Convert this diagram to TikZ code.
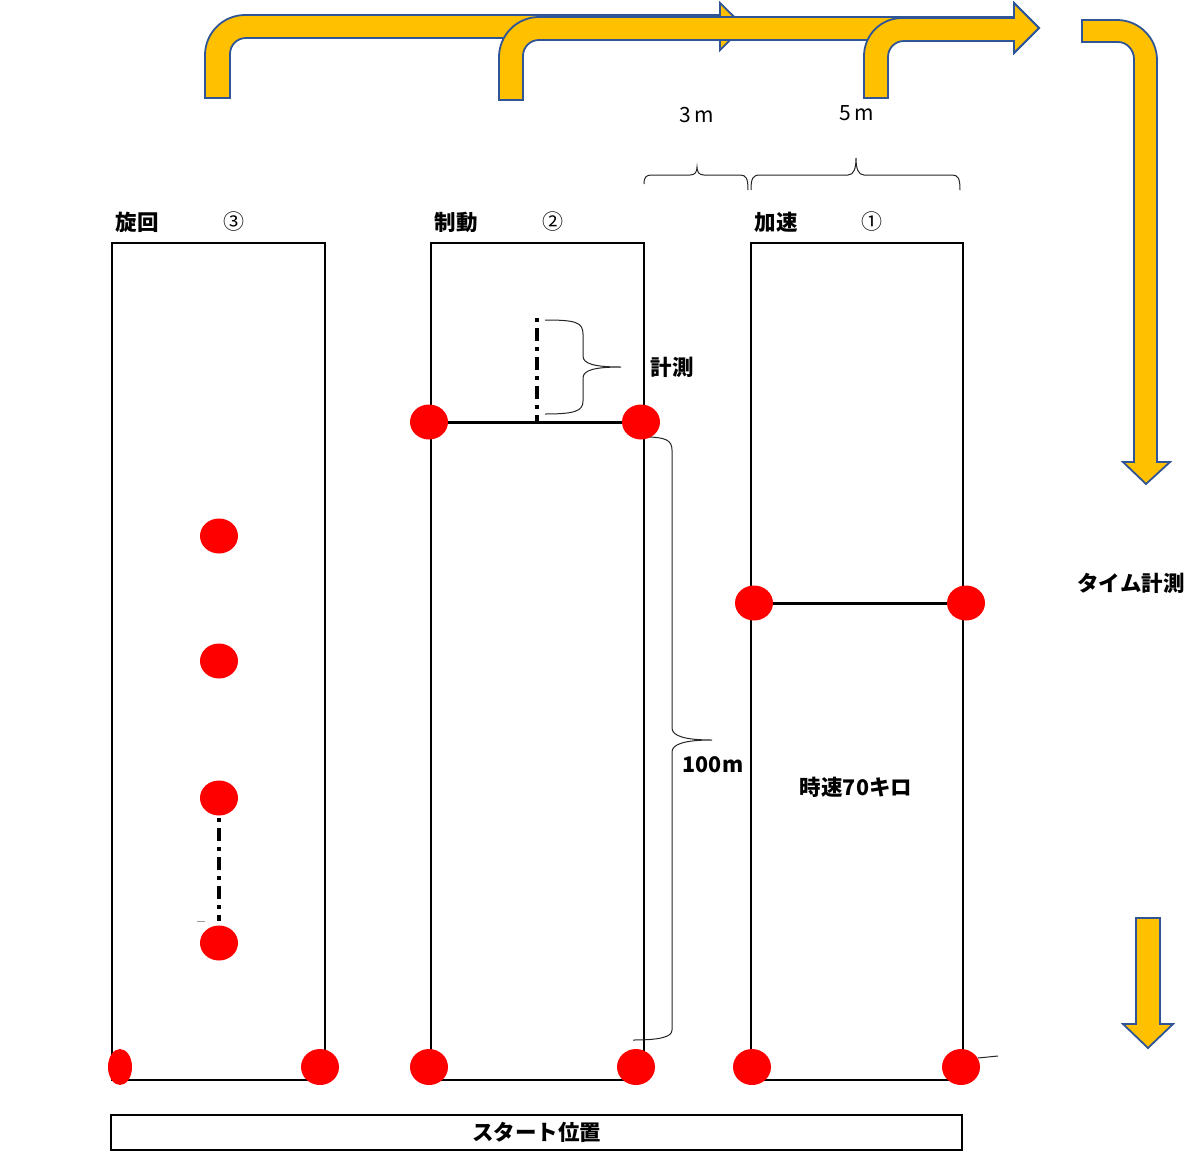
\documentclass[tikz,border=0pt]{standalone}
\usepackage{fontspec}
\setmainfont{Noto Sans CJK JP}
\usetikzlibrary{shapes.geometric}
\definecolor{arrowfill}{HTML}{FFC000}
\definecolor{arrowline}{HTML}{2F5597}
\begin{document}
\begin{tikzpicture}[x=1pt,y=-1pt,
 box/.style={draw=black, line width=2pt, inner sep=0pt},
 dot/.style={ellipse, fill=red, minimum width=38pt, minimum height=35pt, inner sep=0pt},
 lbl/.style={font=\fontsize{21.5}{24}\selectfont\bfseries, inner sep=0pt},
 num/.style={font=\fontsize{21}{24}\selectfont, inner sep=0pt},
 yarrow/.style={fill=arrowfill, draw=arrowline, line width=1.8pt, line join=miter},
 thinline/.style={draw=black!85, line width=1pt},
 bar/.style={draw=black, line width=3pt},
 dashdot/.style={draw=black, line width=4pt, dash pattern=on 4pt off 6pt on 13pt off 6pt}
]
\useasboundingbox (0,0) rectangle (1200,1171);
\fill[white] (0,0) rectangle (1200,1171);

% yellow bent arrows
\path[yarrow] (205,98) -- (205,55) .. controls (205,33) and (223,15) .. (245,15) -- (720,15) -- (720,3) -- (744,26.5) -- (720,50) -- (720,38) -- (246,38) .. controls (237,38) and (230,45) .. (230,54) -- (230,98) -- cycle;
\path[yarrow] (499,100) -- (499,57) .. controls (499,35) and (517,17) .. (539,17) -- (1014,17) -- (1014,3) -- (1039,28) -- (1014,53) -- (1014,40) -- (539,40) .. controls (530,40) and (523,47) .. (523,56) -- (523,100) -- cycle;
\path[yarrow] (864,98) -- (864,56) .. controls (864,35) and (881,18) .. (902,18) -- (1014,18) -- (1014,3) -- (1039,28) -- (1014,53) -- (1014,41) -- (904,41) .. controls (895,41) and (888,48) .. (888,57) -- (888,98) -- cycle;
\path[yarrow] (1082,20) -- (1117,20) .. controls (1139,20) and (1157,38) .. (1157,60) -- (1157,462) -- (1170,462) -- (1146,484) -- (1123,462) -- (1134,462) -- (1134,59) .. controls (1134,50) and (1127,42) .. (1118,42) -- (1082,42) -- cycle;
\path[yarrow] (1136,918) -- (1160,918) -- (1160,1024) -- (1173,1024) -- (1148,1048) -- (1123,1024) -- (1136,1024) -- cycle;

% distance braces on top
\draw[thinline] (644,184) .. controls (644,177) and (646,175) .. (652,175) -- (690,175) .. controls (695,175) and (697,172) .. (697,167) .. controls (697,172) and (699,175) .. (704,175) -- (740,175) .. controls (746,175) and (748,178) .. (748,190);
\draw[thinline] (751,190) .. controls (751,178) and (753,175) .. (760,175) -- (848,175) .. controls (854,175) and (856,168) .. (856,158) .. controls (856,168) and (858,175) .. (864,175) -- (952,175) .. controls (958,175) and (960,178) .. (960,190);
\node[num] (t3m) at (697,115) {3\,m};
\node[num] (t5m) at (857,113) {5\,m};

% lanes
\node[box, minimum width=213pt, minimum height=837pt, anchor=north west] (lane3) at (111,242) {};
\node[box, minimum width=213pt, minimum height=837pt, anchor=north west] (lane2) at (430,242) {};
\node[box, minimum width=212pt, minimum height=837pt, anchor=north west] (lane1) at (750,242) {};

\node[lbl] (l3) at (137,222) {旋回};
\node[num] (n3) at (234,222) {③};
\node[lbl] (l2) at (456,222) {制動};
\node[num] (n2) at (553,222) {②};
\node[lbl] (l1) at (776,222) {加速};
\node[num] (n1) at (872,222) {①};

% coordinates
\coordinate (p2l) at (429,422);
\coordinate (p2r) at (641,422);
\coordinate (m2t) at (537,318);
\coordinate (m2b) at (537,422);
\coordinate (p1l) at (754,603);
\coordinate (p1r) at (966,603);
\coordinate (s3) at (219,798);
\coordinate (s4) at (219,943);

\draw[bar] (p2l) -- (p2r);
\draw[bar] (p1l) -- (p1r);
\draw[dashdot] (m2t) -- (m2b);
\path (s3) ++(0,20) coordinate (s3a) (s4) ++(0,-22) coordinate (s4a);
\draw[dashdot] (s3a) -- (s4a);

% braces in lane 2
\draw[thinline] (545,320) .. controls (575,320) and (583,322) .. (583,334) -- (583,356) .. controls (583,364) and (595,367) .. (621,367) .. controls (595,367) and (583,370) .. (583,378) -- (583,401) .. controls (583,411) and (575,414) .. (545,414);
\node[lbl] (tkei) at (672,367) {計測};
\draw[thinline] (645,437) .. controls (665,437) and (672,440) .. (672,450) -- (672,728) .. controls (672,736) and (685,740) .. (712,740) .. controls (685,740) and (672,744) .. (672,752) -- (672,1030) .. controls (672,1037) and (660,1040) .. (633,1040);
\node[lbl] (t100) at (713,765) {100m};
\node[lbl] (t70) at (856,787) {時速70キロ};
\node[lbl] (ttime) at (1131,583) {タイム計測};

% small marks
\draw[draw=black!40, line width=1pt] (197,921) -- (205,921);
\draw[thinline] (978,1058) -- (998,1056);

% red dots
\node[dot] (d2l) at (p2l) {};
\node[dot] (d2r) at (p2r) {};
\node[dot] (d1l) at (p1l) {};
\node[dot] (d1r) at (p1r) {};
\node[dot] (d31) at (219,536) {};
\node[dot] (d32) at (219,661) {};
\node[dot] (d33) at (s3) {};
\node[dot] (d34) at (s4) {};
\node[dot, minimum width=24pt, minimum height=36pt] (b1) at (120,1067) {};
\node[dot, minimum height=36pt] (b2) at (320,1067) {};
\node[dot, minimum height=36pt] (b3) at (429,1067) {};
\node[dot, minimum height=36pt] (b4) at (636,1067) {};
\node[dot, minimum height=36pt] (b5) at (752,1067) {};
\node[dot, minimum height=36pt] (b6) at (961,1067) {};

% start
\node[box, minimum width=851pt, minimum height=35pt, font=\fontsize{21.5}{24}\selectfont\bfseries] (start) at (536.5,1132.5) {スタート位置};
\end{tikzpicture}
\end{document}
